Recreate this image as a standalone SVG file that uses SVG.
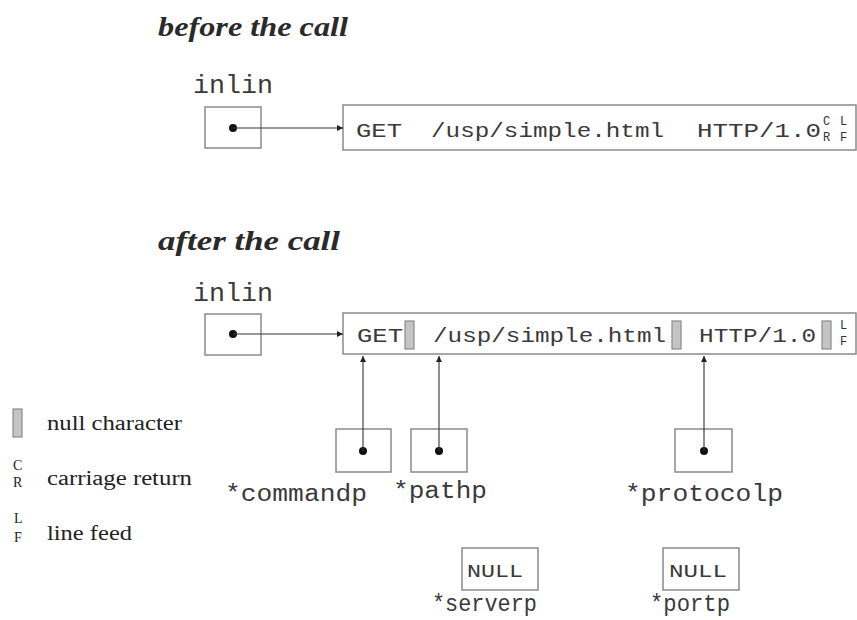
<svg xmlns="http://www.w3.org/2000/svg" width="857" height="620" viewBox="0 0 857 620">
<defs>
<marker id="ah" viewBox="0 0 10 10" refX="10" refY="5" markerWidth="9" markerHeight="6" markerUnits="userSpaceOnUse" orient="auto">
<path d="M0,0 L10,5 L0,10 z" fill="#222"/>
</marker>
<style>
.box{fill:#fff;stroke:#8a8a8a;stroke-width:1.5}
.mono{font-family:"Liberation Mono","DejaVu Sans Mono",monospace;fill:#3a3a3a}
.title{font-family:"Liberation Serif","DejaVu Serif",serif;font-style:italic;font-weight:bold;font-size:27px;fill:#2a2a2a}
.serif{font-family:"Liberation Serif","DejaVu Serif",serif;fill:#222}
.null{fill:#c4c4c4;stroke:#8a8a8a;stroke-width:1.2}
.dot{fill:#111}
.con{stroke:#333;stroke-width:1.1;fill:none;marker-end:url(#ah)}
.small{font-family:"Liberation Mono","DejaVu Sans Mono",monospace;font-size:12px;fill:#333}
</style>
</defs>
<rect width="857" height="620" fill="#fff"/>

<g id="title-before"><text class="title" x="158" y="36" textLength="190" lengthAdjust="spacingAndGlyphs">before the call</text></g>

<g id="inlin-before">
<text class="mono" x="193" y="93" font-size="25" textLength="80" lengthAdjust="spacingAndGlyphs">inlin</text>
<rect class="box" x="205" y="107" width="56" height="41"/>
<circle class="dot" cx="233" cy="128" r="4"/>
</g>

<g id="string-before">
<rect class="box" x="343" y="105" width="513" height="45"/>
<text class="mono" x="356" y="137" font-size="20" textLength="46" lengthAdjust="spacingAndGlyphs">GET</text>
<text class="mono" x="431" y="137" font-size="20" textLength="233" lengthAdjust="spacingAndGlyphs">/usp/simple.html</text>
<text class="mono" x="697" y="137" font-size="20" textLength="124" lengthAdjust="spacingAndGlyphs">HTTP/1.0</text>
<text class="small" x="823" y="125">C</text>
<text class="small" x="823" y="141">R</text>
<text class="small" x="840" y="125">L</text>
<text class="small" x="840" y="141">F</text>
</g>

<g id="title-after"><text class="title" x="158" y="250" textLength="182" lengthAdjust="spacingAndGlyphs">after the call</text></g>

<g id="inlin-after">
<text class="mono" x="193" y="301" font-size="25" textLength="80" lengthAdjust="spacingAndGlyphs">inlin</text>
<rect class="box" x="205" y="314" width="56" height="41"/>
<circle class="dot" cx="233" cy="334" r="4"/>
</g>

<g id="string-after">
<rect class="box" x="343" y="313" width="513" height="41"/>
<text class="mono" x="357" y="342" font-size="20" textLength="46" lengthAdjust="spacingAndGlyphs">GET</text>
<rect class="null" x="405" y="321" width="9" height="28"/>
<text class="mono" x="433" y="342" font-size="20" textLength="233" lengthAdjust="spacingAndGlyphs">/usp/simple.html</text>
<rect class="null" x="672" y="321" width="9" height="28"/>
<text class="mono" x="699" y="342" font-size="20" textLength="117" lengthAdjust="spacingAndGlyphs">HTTP/1.0</text>
<rect class="null" x="822" y="321" width="9" height="28"/>
<text class="small" x="840" y="329">L</text>
<text class="small" x="840" y="345">F</text>
</g>

<g id="commandp">
<rect class="box" x="336" y="429" width="55" height="43"/>
<circle class="dot" cx="363" cy="451" r="4"/>
<text class="mono" x="225" y="501" font-size="23" textLength="142" lengthAdjust="spacingAndGlyphs">*commandp</text>
</g>

<g id="pathp">
<rect class="box" x="411" y="429" width="56" height="43"/>
<circle class="dot" cx="439" cy="451" r="4"/>
<text class="mono" x="393" y="498" font-size="23" textLength="94" lengthAdjust="spacingAndGlyphs">*pathp</text>
</g>

<g id="protocolp">
<rect class="box" x="675" y="429" width="57" height="43"/>
<circle class="dot" cx="704" cy="451" r="4"/>
<text class="mono" x="625" y="501" font-size="23" textLength="158" lengthAdjust="spacingAndGlyphs">*protocolp</text>
</g>

<g id="serverp">
<rect class="box" x="462" y="548" width="76" height="42"/>
<text class="mono" x="467" y="577" font-size="19" textLength="56" lengthAdjust="spacingAndGlyphs">NULL</text>
<text class="mono" x="432" y="611" font-size="23" textLength="105" lengthAdjust="spacingAndGlyphs">*serverp</text>
</g>

<g id="portp">
<rect class="box" x="663" y="548" width="76" height="42"/>
<text class="mono" x="669" y="577" font-size="19" textLength="58" lengthAdjust="spacingAndGlyphs">NULL</text>
<text class="mono" x="650" y="611" font-size="23" textLength="80" lengthAdjust="spacingAndGlyphs">*portp</text>
</g>

<g id="legend">
<rect class="null" x="13" y="409" width="9" height="28"/>
<text class="serif" x="47" y="430" font-size="20" textLength="135" lengthAdjust="spacingAndGlyphs">null character</text>
<text class="serif" x="13" y="470" font-size="14">C</text>
<text class="serif" x="13" y="487" font-size="14">R</text>
<text class="serif" x="47" y="485" font-size="20" textLength="145" lengthAdjust="spacingAndGlyphs">carriage return</text>
<text class="serif" x="14" y="523" font-size="14">L</text>
<text class="serif" x="14" y="542" font-size="14">F</text>
<text class="serif" x="47" y="540" font-size="20" textLength="85" lengthAdjust="spacingAndGlyphs">line feed</text>
</g>

<g id="connectors">
<line class="con" x1="233" y1="128" x2="343" y2="128"/>
<line class="con" x1="233" y1="334" x2="343" y2="334"/>
<line class="con" x1="363" y1="451" x2="363" y2="356"/>
<line class="con" x1="439" y1="451" x2="439" y2="356"/>
<line class="con" x1="704" y1="451" x2="704" y2="356"/>
</g>
</svg>
